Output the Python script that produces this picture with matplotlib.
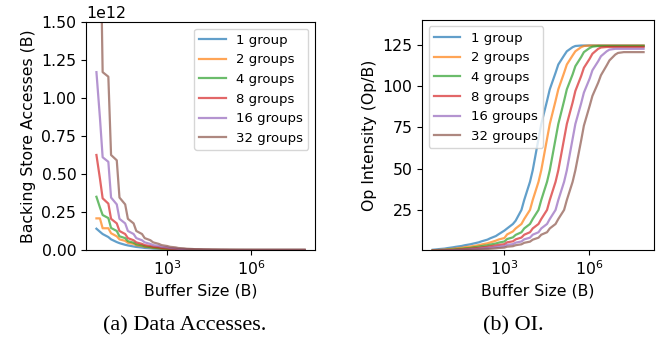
import numpy as np
import matplotlib
matplotlib.use('Agg')
import matplotlib.pyplot as plt
from matplotlib.ticker import NullLocator

# buffer sizes (B)
buffer_sizes = [3, 4, 5, 8, 10, 16, 20, 32, 40, 64, 80, 128, 160, 256, 320, 512, 640,
                1024, 1280, 2048, 2560, 4096, 5120, 8192, 10240, 16384, 20480,
                32768, 40960, 65536, 81920, 131072, 163840, 262144, 327680,
                524288, 655360, 1048576, 1310720, 2097152, 2621440, 4194304,
                5242880, 8388608, 10485760, 16777216, 20971520, 33554432,
                41943040, 67108864, 83886080]

labels = ['1 group', '2 groups', '4 groups', '8 groups', '16 groups', '32 groups']

# backing store accesses, in units of 1e12 B
acc_1 = [0.14, 0.12, 0.105, 0.085, 0.07, 0.052, 0.045, 0.034, 0.03, 0.023, 0.02, 0.016,
         0.0135, 0.011, 0.0092, 0.0075, 0.0063, 0.0051, 0.0043, 0.0035, 0.0029, 0.0023,
         0.0019, 0.0015, 0.0012, 0.00095, 0.00076, 0.0006, 0.00048, 0.00038, 0.0003,
         0.00024, 0.0002, 0.00017, 0.00015, 0.00013, 0.00012, 0.00011, 0.0001, 0.0001,
         0.0001, 0.0001, 0.0001, 0.0001, 0.0001, 0.0001, 0.0001, 0.0001, 0.0001, 0.0001,
         0.0001]
acc_2 = [0.208, 0.208, 0.143, 0.143, 0.11, 0.09, 0.07, 0.06, 0.047, 0.04, 0.031, 0.026,
         0.021, 0.017, 0.0135, 0.011, 0.0088, 0.0072, 0.0058, 0.0047, 0.0037, 0.003,
         0.0024, 0.0019, 0.0015, 0.0012, 0.00097, 0.00078, 0.00063, 0.00051, 0.00041,
         0.00033, 0.00027, 0.00022, 0.00018, 0.00015, 0.00013, 0.00011, 0.0001, 0.0001,
         0.0001, 0.0001, 0.0001, 0.0001, 0.0001, 0.0001, 0.0001, 0.0001, 0.0001, 0.0001,
         0.0001]
acc_4 = [0.35, 0.28, 0.23, 0.21, 0.145, 0.125, 0.09, 0.078, 0.058, 0.048, 0.037, 0.03,
         0.024, 0.019, 0.0155, 0.0125, 0.01, 0.008, 0.0064, 0.005, 0.004, 0.0032, 0.0025,
         0.002, 0.0016, 0.0013, 0.001, 0.0008, 0.00064, 0.00052, 0.00042, 0.00034,
         0.00028, 0.00023, 0.00019, 0.00016, 0.00014, 0.00012, 0.00011, 0.0001, 0.0001,
         0.0001, 0.0001, 0.0001, 0.0001, 0.0001, 0.0001, 0.0001, 0.0001, 0.0001, 0.0001]
acc_8 = [0.625, 0.47, 0.34, 0.305, 0.205, 0.175, 0.125, 0.105, 0.078, 0.064, 0.05, 0.04,
         0.032, 0.026, 0.021, 0.017, 0.013, 0.0105, 0.0082, 0.0065, 0.005, 0.004, 0.0031,
         0.0024, 0.0019, 0.0015, 0.0012, 0.001, 0.0008, 0.00065, 0.00052, 0.00042,
         0.00034, 0.00028, 0.00024, 0.00021, 0.00019, 0.00018, 0.00018, 0.00018, 0.00018,
         0.00018, 0.00018, 0.00018, 0.00018, 0.00018, 0.00018, 0.00018, 0.00018, 0.00018,
         0.00018]
acc_16 = [1.17, 0.87, 0.61, 0.58, 0.345, 0.30, 0.205, 0.175, 0.125, 0.105, 0.078, 0.064,
          0.05, 0.04, 0.032, 0.026, 0.021, 0.017, 0.013, 0.0105, 0.0082, 0.0065, 0.005,
          0.004, 0.0031, 0.0024, 0.0019, 0.0015, 0.0012, 0.001, 0.0008, 0.00066, 0.00055,
          0.00046, 0.0004, 0.00036, 0.00033, 0.00031, 0.0003, 0.0003, 0.0003, 0.0003,
          0.0003, 0.0003, 0.0003, 0.0003, 0.0003, 0.0003, 0.0003, 0.0003, 0.0003]
acc_32 = [2.3, 2.3, 1.17, 1.14, 0.625, 0.59, 0.345, 0.30, 0.205, 0.175, 0.125, 0.105,
          0.078, 0.064, 0.05, 0.04, 0.032, 0.026, 0.021, 0.017, 0.013, 0.0105, 0.0082,
          0.0065, 0.005, 0.004, 0.0031, 0.0024, 0.0019, 0.0015, 0.0012, 0.001, 0.0008,
          0.00068, 0.00058, 0.0005, 0.00047, 0.00046, 0.00046, 0.00046, 0.00046, 0.00046,
          0.00046, 0.00046, 0.00046, 0.00046, 0.00046, 0.00046, 0.00046, 0.00046, 0.00046]

# operational intensity (Op/B)
oi_1 = [0.9, 1.1, 1.3, 1.6, 1.9, 2.4, 2.7, 3.2, 3.6, 4.2, 4.6, 5.4, 6.0, 7.0, 7.8, 9.2,
        10.3, 12.5, 13.8, 16.5, 18.5, 25, 31, 42, 49, 68, 77, 91, 98, 108, 113, 118.5,
        121, 123.5, 124.2, 124.5, 124.5, 124.5, 124.5, 124.5, 124.5, 124.5, 124.5, 124.5,
        124.5, 124.5, 124.5, 124.5, 124.5, 124.5, 124.5]
oi_2 = [0.6, 0.7, 0.8, 1.0, 1.2, 1.5, 1.7, 2.1, 2.4, 2.8, 3.1, 3.7, 4.1, 4.8, 5.3, 6.4,
        7.1, 8.0, 10.2, 12.0, 13.8, 16.5, 19.5, 25, 31, 42, 49, 68, 77, 91, 98, 108, 113,
        118.5, 121, 123.5, 124.2, 124.5, 124.5, 124.5, 124.5, 124.5, 124.5, 124.5, 124.5,
        124.5, 124.5, 124.5, 124.5, 124.5, 124.5]
oi_4 = [0.45, 0.5, 0.55, 0.7, 0.85, 1.05, 1.25, 1.5, 1.75, 2.05, 2.35, 2.8, 3.1, 3.6,
        4.0, 4.7, 5.2, 5.9, 7.4, 8.4, 9.9, 11.5, 13.8, 16.5, 19.5, 25, 31, 42, 49, 68, 77,
        91, 98, 107, 112, 117.5, 120.5, 123, 123.8, 124.2, 124.2, 124.2, 124.2, 124.2,
        124.2, 124.2, 124.2, 124.2, 124.2, 124.2, 124.2]
oi_8 = [0.35, 0.38, 0.42, 0.5, 0.6, 0.75, 0.9, 1.1, 1.3, 1.5, 1.75, 2.05, 2.3, 2.7, 3.0,
        3.5, 3.8, 4.3, 5.4, 6.0, 7.2, 8.3, 10.0, 11.5, 13.8, 16.5, 19.5, 25, 31, 42, 49,
        68, 77, 90, 97, 106, 111, 116.5, 119.5, 122.5, 123.3, 123.6, 123.6, 123.6, 123.6,
        123.6, 123.6, 123.6, 123.6, 123.6, 123.6]
oi_16 = [0.25, 0.27, 0.3, 0.36, 0.43, 0.53, 0.63, 0.78, 0.92, 1.1, 1.25, 1.45, 1.65,
         1.95, 2.15, 2.5, 2.75, 3.1, 3.9, 4.3, 5.2, 5.9, 7.2, 8.2, 10.0, 11.5, 13.8, 16.5,
         19.5, 25, 31, 42, 49, 68, 77, 89.5, 96, 104.5, 109.5, 115, 118, 121, 122, 122.5,
         122.5, 122.5, 122.5, 122.5, 122.5, 122.5, 122.5]
oi_32 = [0.17, 0.18, 0.2, 0.25, 0.3, 0.37, 0.44, 0.55, 0.65, 0.77, 0.88, 1.02, 1.15,
         1.37, 1.5, 1.75, 1.95, 2.2, 2.75, 3.05, 3.65, 4.2, 5.1, 5.8, 7.0, 8.2, 10.0, 11.5,
         13.8, 16.5, 19.5, 25, 31, 42, 49, 67, 76, 88, 94, 102, 106.5, 112.5, 115.5, 119,
         120, 120.5, 120.5, 120.5, 120.5, 120.5, 120.5]

accesses = [acc_1, acc_2, acc_4, acc_8, acc_16, acc_32]
intensity = [oi_1, oi_2, oi_4, oi_8, oi_16, oi_32]

plt.rcParams['font.family'] = 'DejaVu Sans'
plt.rcParams['font.size'] = 11.3

fig = plt.figure(figsize=(6.7, 3.46), dpi=100)
ax1 = fig.add_axes([0.1284, 0.2775, 0.3418, 0.659])
ax2 = fig.add_axes([0.630, 0.2775, 0.3463, 0.665])

x = np.array(buffer_sizes, dtype=float)

for acc, lab in zip(accesses, labels):
    ax1.plot(x, np.array(acc) * 1e12, label=lab, lw=1.6, alpha=0.7)
for oi, lab in zip(intensity, labels):
    ax2.plot(x, oi, label=lab, lw=1.6, alpha=0.7)

for ax in (ax1, ax2):
    ax.set_xscale('log')
    ax.set_xticks([1e3, 1e6])
    ax.xaxis.set_minor_locator(NullLocator())
    ax.set_xlabel('Buffer Size (B)')

ax1.set_ylim(0, 1.5e12)
ax1.set_yticks(np.arange(0, 1.51e12, 0.25e12))
ax1.set_ylabel('Backing Store Accesses (B)')
ax1.legend(loc='upper right', fontsize=9.5)

ax2.set_ylim(0.76, 140)
ax2.set_yticks([25, 50, 75, 100, 125])
ax2.set_ylabel('Op Intensity (Op/B)')
ax2.legend(loc='upper left', fontsize=9.5)

fig.text(0.275, 0.058, '(a) Data Accesses.', ha='center', va='center',
         family='Liberation Serif', fontsize=16)
fig.text(0.766, 0.058, '(b) OI.', ha='center', va='center',
         family='Liberation Serif', fontsize=16)

fig.savefig('out.png', dpi=100)
